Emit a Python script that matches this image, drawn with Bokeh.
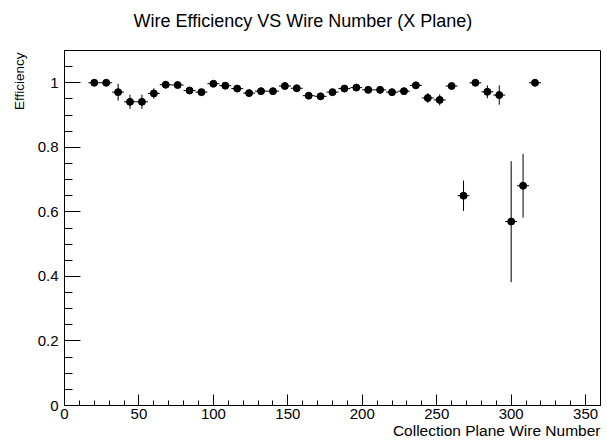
import math
from bokeh.plotting import figure
from bokeh.models import Range1d, SingleIntervalTicker, CustomJSTickFormatter, Title, ColumnDataSource
from bokeh.embed import file_html
from bokeh.resources import INLINE

# ---- data ----
wire = [20, 28, 36, 44, 52, 60, 68, 76, 84, 92, 100, 108, 116, 124, 132, 140, 148, 156,
        164, 172, 180, 188, 196, 204, 212, 220, 228, 236, 244, 252, 260, 268, 276, 284,
        292, 300, 308, 316]
efficiency = [1.000, 1.000, 0.971, 0.941, 0.941, 0.967, 0.994, 0.993, 0.976, 0.971,
              0.997, 0.991, 0.982, 0.968, 0.974, 0.974, 0.990, 0.983, 0.960, 0.958,
              0.971, 0.982, 0.985, 0.978, 0.978, 0.971, 0.974, 0.992, 0.953, 0.947,
              0.990, 0.650, 1.000, 0.972, 0.962, 0.570, 0.681, 1.000]
err_low = [0.0, 0.0, 0.026, 0.022, 0.022, 0.016, 0.006, 0.006, 0.008, 0.008,
           0.003, 0.006, 0.008, 0.010, 0.010, 0.009, 0.006, 0.008, 0.010, 0.010,
           0.009, 0.007, 0.006, 0.008, 0.008, 0.009, 0.010, 0.006, 0.015, 0.017,
           0.008, 0.047, 0.0, 0.020, 0.030, 0.188, 0.099, 0.0]
err_high = [0.0, 0.0, 0.026, 0.022, 0.022, 0.016, 0.006, 0.006, 0.008, 0.008,
            0.003, 0.006, 0.008, 0.010, 0.010, 0.009, 0.006, 0.008, 0.010, 0.010,
            0.009, 0.007, 0.006, 0.008, 0.008, 0.009, 0.010, 0.006, 0.015, 0.017,
            0.008, 0.047, 0.0, 0.020, 0.030, 0.187, 0.099, 0.0]
bin_half_width = [4] * len(wire)

title_text = "Wire Efficiency VS Wire Number (X Plane)"
x_title = "Collection Plane Wire Number"
y_title = "Efficiency"

src = ColumnDataSource(dict(
    x=wire, y=efficiency,
    ylo=[e - l for e, l in zip(efficiency, err_low)],
    yhi=[e + h for e, h in zip(efficiency, err_high)],
    xlo=[w - d for w, d in zip(wire, bin_half_width)],
    xhi=[w + d for w, d in zip(wire, bin_half_width)],
))

FONT = "Liberation Sans"

p = figure(width=606, height=442, output_backend="svg", toolbar_location=None,
           x_range=Range1d(0, 360), y_range=Range1d(0, 1.1),
           min_border_left=64, min_border_right=6, min_border_top=50, min_border_bottom=37)
p.background_fill_color = "white"
p.border_fill_color = "white"
p.outline_line_color = "black"
p.outline_line_width = 1
p.xgrid.visible = False
p.ygrid.visible = False

# spacer between frame and main title (pushes the title upward)
p.add_layout(Title(text=" ", text_font_size="1px", standoff=16), "above")

# main title
p.title.text = title_text
p.title.align = "left"
p.title.offset = 69
p.title.text_font = FONT
p.title.text_font_size = "18px"
p.title.text_font_style = "normal"
p.title.text_color = "black"
p.title.vertical_align = "middle"
p.title.standoff = 0

fmt = CustomJSTickFormatter(code="return String(+tick.toFixed(2));")

xa = p.xaxis[0]
xa.ticker = SingleIntervalTicker(interval=50, num_minor_ticks=5)
xa.formatter = fmt
xa.major_tick_in = 11
xa.major_tick_out = 0
xa.minor_tick_in = 5
xa.minor_tick_out = 0
xa.major_label_standoff = 3
xa.major_label_text_font = FONT
xa.major_label_text_font_size = "15px"
xa.major_label_text_color = "black"
xa.axis_line_color = "black"
xa.major_tick_line_color = "black"
xa.minor_tick_line_color = "black"

ya = p.yaxis[0]
ya.ticker = SingleIntervalTicker(interval=0.2, num_minor_ticks=4)
ya.formatter = fmt
ya.major_tick_in = 16
ya.major_tick_out = 0
ya.minor_tick_in = 8
ya.minor_tick_out = 0
ya.major_label_standoff = 6
ya.major_label_text_font = FONT
ya.major_label_text_font_size = "15px"
ya.major_label_text_color = "black"
ya.axis_line_color = "black"
ya.major_tick_line_color = "black"
ya.minor_tick_line_color = "black"

# axis titles (ROOT style: aligned to the axis end)
p.add_layout(Title(text=x_title, align="right", offset=0, standoff=0,
                   text_font=FONT, text_font_size="15.5px", text_font_style="normal",
                   text_color="black", vertical_align="top"), "below")
p.add_layout(Title(text=y_title, align="right", offset=2, standoff=14,
                   text_font=FONT, text_font_size="13.5px", text_font_style="normal",
                   text_color="black", vertical_align="middle"), "left")

# error bars
p.segment(x0="x", y0="ylo", x1="x", y1="yhi", source=src, line_color="black", line_width=1)
p.segment(x0="xlo", y0="y", x1="xhi", y1="y", source=src, line_color="black", line_width=1)
# markers
p.scatter(x="x", y="y", source=src, size=7, marker="circle",
          fill_color="black", line_color="black")

open("out.html", "w").write(file_html(p, INLINE))
